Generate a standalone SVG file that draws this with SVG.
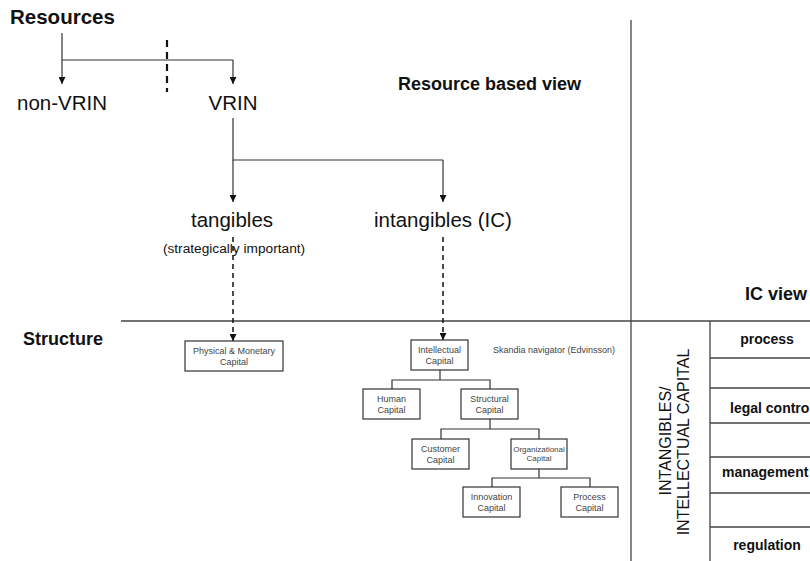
<svg xmlns="http://www.w3.org/2000/svg" width="810" height="561" viewBox="0 0 810 561">
<defs>
<marker id="ah" viewBox="0 0 10 10" refX="10" refY="5" markerWidth="7" markerHeight="7" markerUnits="userSpaceOnUse" orient="auto">
<path d="M0,0 L10,5 L0,10 z" fill="#111"/>
</marker>
<style>
text{font-family:"Liberation Sans",Arial,sans-serif;fill:#111}
.big{font-size:20.5px}
.bold{font-weight:bold}
.h18{font-size:18px;font-weight:bold}
.tb{font-size:14px;font-weight:bold;fill:#111}
.box rect{fill:#fff;stroke:#333;stroke-width:1.2}
.box text{font-size:9px;fill:#444;text-anchor:middle}
.ln{stroke:#333;stroke-width:1.2;fill:none}
.grid{stroke:#444;stroke-width:1.3;fill:none}
.dash{stroke:#111;stroke-width:1.5;stroke-dasharray:5 4;fill:none}
</style>
</defs>

<g id="frame">
<line class="grid" x1="631" y1="20" x2="631" y2="561"/>
<line class="grid" x1="121" y1="321" x2="810" y2="321"/>
<line class="grid" x1="710" y1="321" x2="710" y2="561"/>
<line class="grid" x1="710" y1="358" x2="810" y2="358"/>
<line class="grid" x1="710" y1="388" x2="810" y2="388"/>
<line class="grid" x1="710" y1="423" x2="810" y2="423"/>
<line class="grid" x1="710" y1="457" x2="810" y2="457"/>
<line class="grid" x1="710" y1="493" x2="810" y2="493"/>
<line class="grid" x1="710" y1="527" x2="810" y2="527"/>
</g>

<g id="labels">
<text class="big bold" x="10" y="24">Resources</text>
<text class="h18" x="398" y="90">Resource based view</text>
<text class="h18" x="23" y="345">Structure</text>
<text class="h18" x="745" y="300">IC view</text>
<text x="493" y="353" style="fill:#444;font-size:9px">Skandia navigator (Edvinsson)</text>
</g>

<g id="table">
<text class="tb" x="767" y="344" text-anchor="middle">process</text>
<text class="tb" x="730" y="413">legal contro</text>
<text class="tb" x="722" y="477">management</text>
<text class="tb" x="767" y="550" text-anchor="middle">regulation</text>
<text text-anchor="middle" transform="translate(671,441) rotate(-90)" style="font-size:16px">INTANGIBLES/</text>
<text text-anchor="middle" transform="translate(689,442) rotate(-90)" style="font-size:16px">INTELLECTUAL CAPITAL</text>
</g>

<g id="connectors">
<polyline class="ln" points="62,33 62,60 233,60"/>
<line class="ln" x1="62" y1="60" x2="62" y2="84" marker-end="url(#ah)"/>
<line class="ln" x1="233" y1="60" x2="233" y2="84" marker-end="url(#ah)"/>
<line x1="167" y1="40" x2="167" y2="92" stroke="#111" stroke-width="2.2" stroke-dasharray="7 5"/>
<polyline class="ln" points="233,118 233,160 443,160"/>
<line class="ln" x1="233" y1="160" x2="233" y2="202" marker-end="url(#ah)"/>
<line class="ln" x1="443" y1="160" x2="443" y2="202" marker-end="url(#ah)"/>
<line class="dash" x1="233" y1="237" x2="233" y2="341" marker-end="url(#ah)"/>
<line class="dash" x1="443" y1="237" x2="443" y2="340" marker-end="url(#ah)"/>
<polyline class="ln" points="440,370 440,380"/>
<polyline class="ln" points="392,389 392,380 490,380 490,389"/>
<polyline class="ln" points="490,419 490,429"/>
<polyline class="ln" points="441,439 441,429 539,429 539,439"/>
<polyline class="ln" points="539,469 539,478"/>
<polyline class="ln" points="492,487 492,478 590,478 590,487"/>
</g>

<g id="n-nonvrin"><text class="big" x="62" y="110" text-anchor="middle">non-VRIN</text></g>
<g id="n-vrin"><text class="big" x="233" y="110" text-anchor="middle">VRIN</text></g>
<g id="n-tangibles">
<text class="big" x="232" y="227" text-anchor="middle">tangibles</text>
<text x="234" y="253" text-anchor="middle" style="font-size:13.7px">(strategically important)</text>
</g>
<g id="n-intangibles"><text class="big" x="443" y="227" text-anchor="middle">intangibles (IC)</text></g>

<g id="n-physical" class="box"><rect x="185" y="341" width="98" height="30"/><text x="234" y="353.5">Physical &amp; Monetary</text><text x="234" y="364.5">Capital</text></g>
<g id="n-intellectual" class="box"><rect x="411" y="340" width="57" height="30"/><text x="439.5" y="352.5">Intellectual</text><text x="439.5" y="363.5">Capital</text></g>
<g id="n-human" class="box"><rect x="363" y="389" width="57" height="30"/><text x="391.5" y="401.5">Human</text><text x="391.5" y="412.5">Capital</text></g>
<g id="n-structural" class="box"><rect x="461" y="389" width="57" height="30"/><text x="489.5" y="401.5">Structural</text><text x="489.5" y="412.5">Capital</text></g>
<g id="n-customer" class="box"><rect x="412" y="439" width="57" height="30"/><text x="440.5" y="451.5">Customer</text><text x="440.5" y="462.5">Capital</text></g>
<g id="n-organizational" class="box"><rect x="511" y="439" width="56" height="30"/><text x="539" y="452" style="font-size:8px">Organizational</text><text x="539" y="461" style="font-size:8px">Capital</text></g>
<g id="n-innovation" class="box"><rect x="463" y="487" width="57" height="30"/><text x="491.5" y="499.5">Innovation</text><text x="491.5" y="510.5">Capital</text></g>
<g id="n-process" class="box"><rect x="561" y="487" width="57" height="30"/><text x="589.5" y="499.5">Process</text><text x="589.5" y="510.5">Capital</text></g>
</svg>
